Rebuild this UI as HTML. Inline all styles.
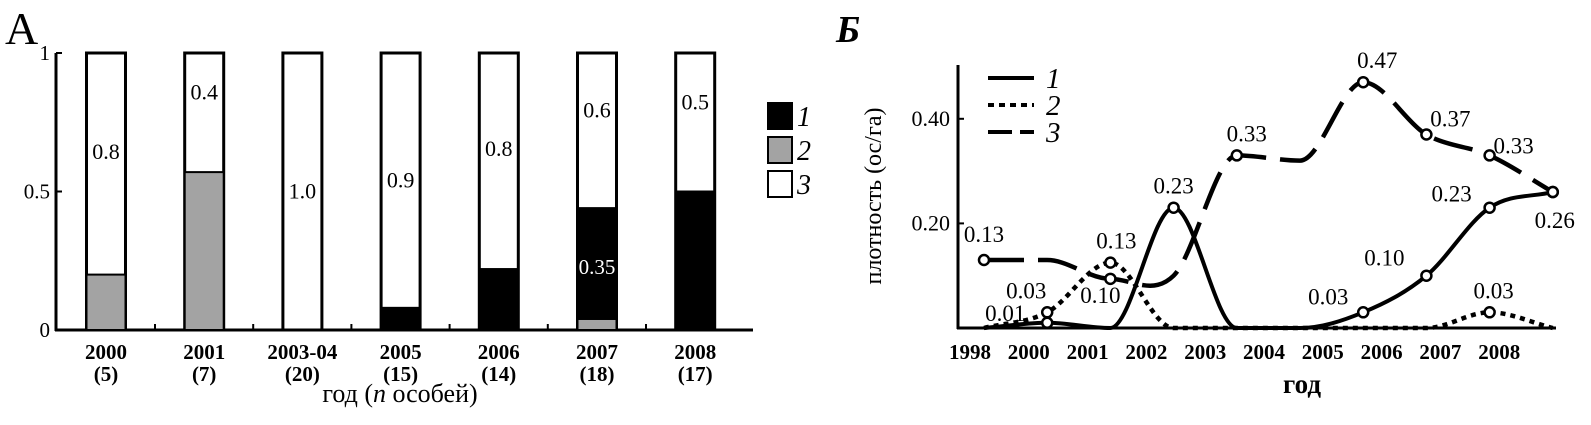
<!DOCTYPE html>
<html><head><meta charset="utf-8">
<style>
html,body{margin:0;padding:0;background:#fff;}
svg{display:block;font-family:"Liberation Serif","DejaVu Serif",serif;}
</style></head>
<body>
<svg id="root" width="1591" height="425" viewBox="0 0 1591 425" xmlns="http://www.w3.org/2000/svg">
<g id="chartA"></g>
<g id="chartB"></g>
</svg>
<script>
// ---------- Chart A data ----------
const catsA = ["2000","2001","2003-04","2005","2006","2007","2008"];
const nA = ["(5)","(7)","(20)","(15)","(14)","(18)","(17)"];
const blackA = [0,0,0,0.08,0.22,0.40,0.50];
const greyA = [0.20,0.57,0,0,0,0.04,0];
const whiteLabelA = ["0.8","0.4","1.0","0.9","0.8","0.6","0.5"];
const blackLabelA = ["","","","","","0.35",""];
const yTicksA = [0,0.5,1];
const yTickLabelsA = ["0","0.5","1"];

// ---------- Chart B data ----------
const yearsB = ["1998","2000","2001","2002","2003","2004","2005","2006","2007","2008"];
const s1 = [0,0.01,0,0.23,0,0,0.03,0.10,0.23,0.26];
const s2 = [0,0.03,0.125,0,0,0,0,0,0.03,0];
const s3 = [0.13,0.13,0.094,0.10,0.33,0.32,0.47,0.37,0.33,0.26];
const s1Marks = [1,3,6,7,8,9];
const s2Marks = [1,2,8];
const s3Marks = [0,2,4,6,7,8,9];
const s1Labels = ["0.01","0.23","0.03","0.10","0.23","0.26"];
const s2Labels = ["0.03","0.13","0.03"];
const s3Labels = ["0.13","0.10","0.33","0.47","0.37","0.33",""];
const yTicksB = [0.2,0.4];
const yTickLabelsB = ["0.20","0.40"];

const NS="http://www.w3.org/2000/svg";
function mk(parent,tag,attrs,name,text){
  const e=document.createElementNS(NS,tag);
  for(const k in attrs)e.setAttribute(k,attrs[k]);
  
  
  if(text!==undefined)e.textContent=text;
  parent.appendChild(e);return e;
}

// ---------- Chart A ----------
(function(){
  const g=document.getElementById('chartA');
  const y0=330,y1=53;
  const yA=v=>y0-(y0-y1)*v;
  const xA=i=>106+i*98.2;
  const bw=39;
  mk(g,'text',{x:5,y:44,'font-size':46},'panel-label-a','A');
  mk(g,'line',{x1:56,y1:yA(1),x2:56,y2:y0+1,stroke:'#000','stroke-width':3},'y-axis-a');
  mk(g,'line',{x1:55,y1:y0,x2:753,y2:y0,stroke:'#000','stroke-width':3},'x-axis-a');
  yTicksA.forEach((t,i)=>{
    mk(g,'line',{x1:56,y1:yA(t),x2:62,y2:yA(t),stroke:'#000','stroke-width':2},'y-tick-a');
    mk(g,'text',{x:50,y:yA(t)+7,'font-size':21,'text-anchor':'end'},'y-tick-label-a',yTickLabelsA[i]);
  });
  catsA.forEach((c,i)=>{
    if(i<catsA.length-1) mk(g,'line',{x1:xA(i)+49,y1:y0,x2:xA(i)+49,y2:y0-6,stroke:'#000','stroke-width':2},'x-tick-a');
    const x=xA(i)-bw/2;
    mk(g,'rect',{x:x,y:yA(1),width:bw,height:y0-yA(1),fill:'#fff',stroke:'#000','stroke-width':3},'bar-white-'+c);
    if(greyA[i]>0) mk(g,'rect',{x:x,y:yA(greyA[i]),width:bw,height:y0-yA(greyA[i]),fill:'#a3a3a3',stroke:'#000','stroke-width':2},'bar-grey-'+c);
    if(blackA[i]>0) mk(g,'rect',{x:x,y:yA(greyA[i]+blackA[i]),width:bw,height:yA(greyA[i])-yA(greyA[i]+blackA[i]),fill:'#000',stroke:'#000','stroke-width':2},'bar-black-'+c);
    const base=greyA[i]+blackA[i];
    const ly=(yA(1)+yA(base))/2+ (i==1||i==5||i==6? -20:(i==0||i==4?-12:0));
    mk(g,'text',{x:xA(i),y:ly+7,'font-size':22,'text-anchor':'middle'},'value-label-'+c,whiteLabelA[i]);
    if(blackLabelA[i]) mk(g,'text',{x:xA(i),y:274,'font-size':21,'text-anchor':'middle',fill:'#fff'},'black-value-label-'+c,blackLabelA[i]);
    mk(g,'text',{x:xA(i),y:359,'font-size':21,'font-weight':'bold','text-anchor':'middle'},'x-label-'+c,c);
    mk(g,'text',{x:xA(i),y:381,'font-size':21,'font-weight':'bold','text-anchor':'middle'},'x-n-label-'+c,nA[i]);
  });
  const t=mk(g,'text',{x:400,y:402,'font-size':26,'text-anchor':'middle'},'x-axis-title-a','');
  t.innerHTML='год (<tspan font-style="italic">n</tspan> особей)';
  const fills=['#000','#a3a3a3','#fff'];
  ['1','2','3'].forEach((l,i)=>{
    mk(g,'rect',{x:768,y:103+i*34,width:24,height:26,fill:fills[i],stroke:'#000','stroke-width':2},'legend-swatch-a-'+l);
    mk(g,'text',{x:797,y:126+i*34,'font-size':28,'font-style':'italic'},'legend-label-a-'+l,l);
  });
})();

// ---------- Chart B ----------
(function(){
  const g=document.getElementById('chartB');
  const y0=328;
  const yB=v=>y0-v*523;
  const xB=i=>984+i*63.2;
  const xL=i=>970+i*58.8;
  mk(g,'text',{x:836,y:42,'font-size':38,'font-style':'italic','font-weight':'bold'},'panel-label-b','Б');
  mk(g,'line',{x1:958,y1:65,x2:958,y2:y0+1,stroke:'#000','stroke-width':3},'y-axis-b');
  mk(g,'line',{x1:957,y1:y0,x2:1556,y2:y0,stroke:'#000','stroke-width':3},'x-axis-b');
  yTicksB.forEach((t,i)=>{
    mk(g,'line',{x1:958,y1:yB(t),x2:964,y2:yB(t),stroke:'#000','stroke-width':2},'y-tick-b');
    mk(g,'text',{x:950,y:yB(t)+7,'font-size':22,'text-anchor':'end'},'y-tick-label-b',yTickLabelsB[i]);
  });
  yearsB.forEach((y,i)=>mk(g,'text',{x:xL(i),y:359,'font-size':21,'font-weight':'bold','text-anchor':'middle'},'x-tick-label-b',y));
  mk(g,'text',{x:1302,y:393,'font-size':27,'font-weight':'bold','text-anchor':'middle'},'x-axis-title-b','год');
  mk(g,'text',{x:0,y:0,'font-size':24,'text-anchor':'middle',transform:'translate(881,196) rotate(-90)'},'y-axis-title-b','плотность (ос/га)');
  function path(vals){
    const p=vals.map((v,i)=>[xB(i),yB(v)]);
    const n=p.length, d=[], m=[];
    for(let i=0;i<n-1;i++) d.push((p[i+1][1]-p[i][1])/(p[i+1][0]-p[i][0]));
    for(let i=0;i<n;i++){
      if(i==0) m.push(d[0]); else if(i==n-1) m.push(d[n-2]);
      else m.push(d[i-1]*d[i]<=0?0:(d[i-1]+d[i])/2);
    }
    for(let i=0;i<n-1;i++){ if(d[i]==0){m[i]=0;m[i+1]=0;} }
    let s='M'+p[0][0]+','+p[0][1];
    for(let i=0;i<n-1;i++){
      const h=(p[i+1][0]-p[i][0])/3;
      s+=' C'+(p[i][0]+h)+','+(p[i][1]+m[i]*h)+' '+(p[i+1][0]-h)+','+(p[i+1][1]-m[i+1]*h)+' '+p[i+1][0]+','+p[i+1][1];
    }
    return s;
  }
  mk(g,'path',{d:path(s3),fill:'none',stroke:'#000','stroke-width':4.5,'stroke-dasharray':'40 14'},'series-3-line');
  mk(g,'path',{d:path(s2),fill:'none',stroke:'#000','stroke-width':4.5,'stroke-dasharray':'5 5'},'series-2-line');
  mk(g,'path',{d:path(s1),fill:'none',stroke:'#000','stroke-width':4},'series-1-line');
  function marks(vals,idx,labels,name,offs){
    idx.forEach((i,k)=>{
      mk(g,'circle',{cx:xB(i),cy:yB(vals[i]),r:5,fill:'#fff',stroke:'#000','stroke-width':2.5},name+'-marker');
      if(labels[k]) mk(g,'text',{x:xB(i)+offs[k][0],y:yB(vals[i])+offs[k][1],'font-size':23,'text-anchor':'middle'},name+'-value-label',labels[k]);
    });
  }
  marks(s1,s1Marks,s1Labels,'series-1',[[-42,-2],[0,-14],[-35,-8],[-42,-10],[-38,-6],[2,36]]);
  marks(s2,s2Marks,s2Labels,'series-2',[[-21,-14],[6,-14],[4,-14]]);
  marks(s3,s3Marks,s3Labels,'series-3',[[0,-18],[-10,24],[10,-14],[14,-14],[24,-8],[24,-2],[0,0]]);
  [['1',''],['2','6 5'],['3','24 8']].forEach((l,i)=>{
    mk(g,'line',{x1:988,y1:78+i*27,x2:1034,y2:78+i*27,stroke:'#000','stroke-width':4,'stroke-dasharray':l[1]},'legend-line-b-'+l[0]);
    mk(g,'text',{x:1046,y:88+i*27,'font-size':29,'font-style':'italic'},'legend-label-b-'+l[0],l[0]);
  });
})();
</script>
</body></html>
